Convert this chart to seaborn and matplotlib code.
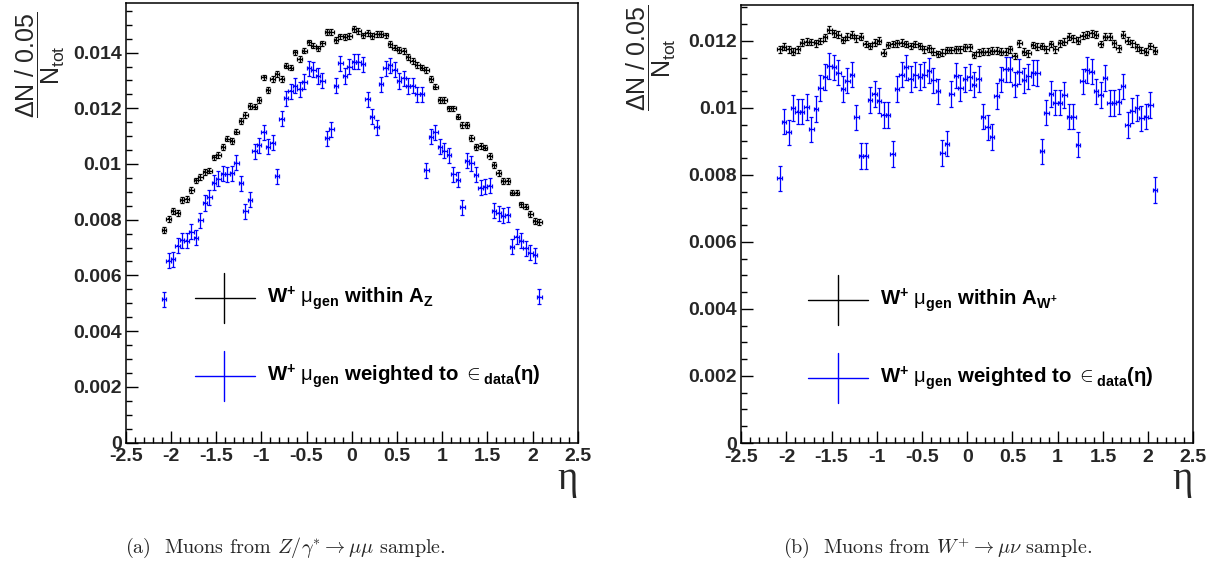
import numpy as np
import pandas as pd
import matplotlib
matplotlib.use("Agg")
import matplotlib.pyplot as plt
import seaborn as sns
from matplotlib.ticker import MultipleLocator, FormatStrFormatter

# 84 eta bins of width 0.05 between -2.1 and 2.1
bin_edges = np.round(np.linspace(-2.1, 2.1, 85), 3)
eta = 0.5 * (bin_edges[:-1] + bin_edges[1:])
bin_half = 0.025

# (a) Z/gamma* -> mu mu sample
z_within = [
    0.00762, 0.00803, 0.00832, 0.00825, 0.00871, 0.00874, 0.00906, 0.00941, 0.00954, 0.00972,
    0.00976, 0.01024, 0.01033, 0.01061, 0.01091, 0.01083, 0.01116, 0.01154, 0.01175, 0.01208,
    0.01206, 0.01229, 0.01311, 0.01266, 0.01305, 0.01323, 0.01305, 0.01353, 0.01346, 0.01401,
    0.01376, 0.01407, 0.01437, 0.01425, 0.01415, 0.01433, 0.01473, 0.01473, 0.01445, 0.01458,
    0.01456, 0.01460, 0.01485, 0.01477, 0.01462, 0.01471, 0.01460, 0.01466, 0.01466, 0.01462,
    0.01431, 0.01418, 0.01409, 0.01406, 0.01385, 0.01370, 0.01355, 0.01346, 0.01338, 0.01305,
    0.01278, 0.01230, 0.01230, 0.01200, 0.01200, 0.01170, 0.01140, 0.01141, 0.01094, 0.01062,
    0.01065, 0.01059, 0.01029, 0.00996, 0.00967, 0.00939, 0.00939, 0.00897, 0.00897, 0.00855,
    0.00847, 0.00820, 0.00795, 0.00791,
]
z_weighted = [
    0.00514, 0.00653, 0.00658, 0.00706, 0.00727, 0.00725, 0.00757, 0.00735, 0.00798, 0.00860,
    0.00880, 0.00933, 0.00947, 0.00965, 0.00963, 0.00967, 0.01005, 0.00931, 0.00831, 0.00871,
    0.01046, 0.01068, 0.01114, 0.01062, 0.01076, 0.00956, 0.01162, 0.01236, 0.01262, 0.01281,
    0.01268, 0.01296, 0.01344, 0.01338, 0.01316, 0.01299, 0.01092, 0.01125, 0.01281, 0.01362,
    0.01316, 0.01349, 0.01367, 0.01367, 0.01358, 0.01233, 0.01170, 0.01132, 0.01287, 0.01344,
    0.01355, 0.01338, 0.01298, 0.01308, 0.01280, 0.01281, 0.01251, 0.01251, 0.00978, 0.01098,
    0.01114, 0.01062, 0.01047, 0.01032, 0.00964, 0.00943, 0.00845, 0.01011, 0.01003, 0.00961,
    0.00915, 0.00919, 0.00922, 0.00832, 0.00823, 0.00814, 0.00817, 0.00703, 0.00739, 0.00725,
    0.00697, 0.00682, 0.00673, 0.00524,
]

# (b) W+ -> mu nu sample
w_within = [
    0.01175, 0.01183, 0.01175, 0.01168, 0.01175, 0.01195, 0.01198, 0.01197, 0.01193, 0.01200,
    0.01211, 0.01233, 0.01223, 0.01218, 0.01203, 0.01213, 0.01218, 0.01208, 0.01213, 0.01191,
    0.01185, 0.01195, 0.01201, 0.01165, 0.01188, 0.01191, 0.01193, 0.01195, 0.01191, 0.01185,
    0.01191, 0.01185, 0.01175, 0.01178, 0.01168, 0.01161, 0.01165, 0.01173, 0.01173, 0.01175,
    0.01175, 0.01181, 0.01181, 0.01158, 0.01166, 0.01168, 0.01168, 0.01171, 0.01171, 0.01168,
    0.01168, 0.01175, 0.01155, 0.01193, 0.01168, 0.01163, 0.01188, 0.01183, 0.01185, 0.01175,
    0.01191, 0.01175, 0.01193, 0.01198, 0.01213, 0.01208, 0.01201, 0.01215, 0.01218, 0.01223,
    0.01218, 0.01191, 0.01213, 0.01213, 0.01193, 0.01178, 0.01218, 0.01201, 0.01193, 0.01181,
    0.01173, 0.01168, 0.01185, 0.01171,
]
w_weighted = [
    0.00790, 0.00959, 0.00927, 0.00999, 0.00989, 0.00989, 0.01002, 0.00936, 0.00997, 0.01059,
    0.01092, 0.01125, 0.01121, 0.01105, 0.01057, 0.01081, 0.01099, 0.00972, 0.00857, 0.00857,
    0.01024, 0.01042, 0.01022, 0.00979, 0.00979, 0.00862, 0.01056, 0.01099, 0.01121, 0.01086,
    0.01099, 0.01092, 0.01099, 0.01111, 0.01082, 0.01049, 0.00865, 0.00893, 0.01042, 0.01096,
    0.01060, 0.01085, 0.01092, 0.01069, 0.01086, 0.00974, 0.00942, 0.00913, 0.01036, 0.01084,
    0.01115, 0.01115, 0.01069, 0.01108, 0.01082, 0.01094, 0.01105, 0.01104, 0.00870, 0.00986,
    0.01042, 0.01016, 0.01016, 0.01039, 0.00974, 0.00974, 0.00890, 0.01079, 0.01113, 0.01108,
    0.01049, 0.01039, 0.01089, 0.01014, 0.01014, 0.01019, 0.01064, 0.00949, 0.00992, 0.00999,
    0.00969, 0.00974, 0.01009, 0.00755,
]

# statistical uncertainty per bin
z_within_err = 0.00010
z_weighted_err = 0.00027
w_within_err = 0.00010
w_weighted_err = 0.00038

labels_z = [r"W$^{\mathbf{+}}$ $\mathrm{\mu}_{\mathbf{gen}}$ within A$_{\mathbf{Z}}$",
            r"W$^{\mathbf{+}}$ $\mathrm{\mu}_{\mathbf{gen}}$ weighted to $\in_{\mathbf{data}}$(η)"]
labels_w = [r"W$^{\mathbf{+}}$ $\mathrm{\mu}_{\mathbf{gen}}$ within A$_{\mathbf{W^{+}}}$",
            r"W$^{\mathbf{+}}$ $\mathrm{\mu}_{\mathbf{gen}}$ weighted to $\in_{\mathbf{data}}$(η)"]
captions = [r"(a)  Muons from $Z/\gamma^{*} \rightarrow \mu\mu$ sample.",
            r"(b)  Muons from $W^{+} \rightarrow \mu\nu$ sample."]
y_title = r"$\dfrac{\mathrm{\Delta N\ /\ 0.05}}{\mathrm{N_{tot}}}$"

sns.set_theme(style="ticks")
plt.rcParams["font.family"] = ["Liberation Sans", "DejaVu Sans"]
plt.rcParams["font.weight"] = "normal"
plt.rcParams["mathtext.fontset"] = "custom"
plt.rcParams["mathtext.rm"] = "Liberation Sans"
plt.rcParams["mathtext.it"] = "Liberation Sans:italic"
plt.rcParams["mathtext.bf"] = "Liberation Sans:bold"
plt.rcParams["axes.unicode_minus"] = False

W, H = 1219, 567
fig = plt.figure(figsize=(W / 100, H / 100), dpi=100)
fig.patch.set_facecolor("white")


def frac_box(left, right, top, bottom):
    return [left / W, 1 - bottom / H, (right - left) / W, (bottom - top) / H]


def fx(px):
    return px / W


def fy(py):
    return 1 - py / H


ax_z = fig.add_axes(frac_box(125.7, 577.7, 3.3, 442.5))
ax_w = fig.add_axes(frac_box(741.2, 1193.3, 5.0, 443.0))

panels = [
    dict(ax=ax_z, within=z_within, weighted=z_weighted, e1=z_within_err, e2=z_weighted_err,
         ymax=0.01577, labels=labels_z,
         key1=dict(x0=195, x1=255, xc=224, y=298, h=25, tx=267),
         key2=dict(x0=195, x1=255, xc=224, y=376, h=25, tx=267),
         ylab_x=40, ylab_top=12, eta_x=568, cap_x=285),
    dict(ax=ax_w, within=w_within, weighted=w_weighted, e1=w_within_err, e2=w_weighted_err,
         ymax=0.01307, labels=labels_w,
         key1=dict(x0=808, x1=868, xc=838, y=300, h=25, tx=880),
         key2=dict(x0=808, x1=868, xc=838, y=378, h=25, tx=880),
         ylab_x=651, ylab_top=5, eta_x=1183, cap_x=938),
]

for p in panels:
    ax = p["ax"]
    ax.set_facecolor("white")
    df = pd.DataFrame({"eta": np.concatenate([eta, eta]),
                       "value": np.concatenate([p["within"], p["weighted"]]),
                       "sample": ["within"] * len(eta) + ["weighted"] * len(eta)})
    palette = {"within": "black", "weighted": "#0000ff"}
    for name, err in (("within", p["e1"]), ("weighted", p["e2"])):
        sub = df[df["sample"] == name]
        ax.errorbar(sub["eta"], sub["value"], xerr=bin_half, yerr=err, fmt="none",
                    ecolor=palette[name], elinewidth=0.9, capsize=1.3, capthick=0.9)
    sns.scatterplot(data=df, x="eta", y="value", hue="sample", palette=palette,
                    s=2, linewidth=0, legend=False, ax=ax)

    ax.set_xlim(-2.5, 2.5)
    ax.set_ylim(0, p["ymax"])
    ax.set_xlabel("")
    ax.set_ylabel("")
    ax.xaxis.set_major_locator(MultipleLocator(0.5))
    ax.xaxis.set_minor_locator(MultipleLocator(0.1))
    ax.yaxis.set_major_locator(MultipleLocator(0.002))
    ax.yaxis.set_minor_locator(MultipleLocator(0.0005))
    ax.xaxis.set_major_formatter(FormatStrFormatter("%g"))
    ax.yaxis.set_major_formatter(FormatStrFormatter("%g"))
    ax.tick_params(which="both", direction="in", top=False, right=False,
                   width=1.0, color="black")
    ax.tick_params(which="major", length=8.6, labelsize=14)
    ax.tick_params(axis="y", which="major", pad=3.0)
    ax.tick_params(axis="x", which="major", pad=4.0)
    ax.tick_params(which="minor", length=4.3)
    for s in ax.spines.values():
        s.set_visible(True)
        s.set_color("black")
        s.set_linewidth(1.1)

    # legend keys drawn as error-bar crosses
    for key, col, lab in ((p["key1"], "black", p["labels"][0]),
                          (p["key2"], "#0000ff", p["labels"][1])):
        fig.add_artist(plt.Line2D([fx(key["x0"]), fx(key["x1"])], [fy(key["y"])] * 2,
                                  color=col, lw=1.0))
        fig.add_artist(plt.Line2D([fx(key["xc"])] * 2,
                                  [fy(key["y"] - key["h"]), fy(key["y"] + key["h"])],
                                  color=col, lw=1.0))
        fig.text(fx(key["tx"]), fy(key["y"]), lab, fontsize=14.7, fontweight="bold",
                 ha="left", va="center", color="black")

    fig.text(fx(p["ylab_x"]), fy(p["ylab_top"]), y_title, rotation=90,
             fontsize=18, ha="center", va="top")
    fig.text(fx(p["eta_x"]), fy(489), "η", family="Liberation Serif",
             fontsize=28, ha="center", va="baseline")

for p, cap in zip(panels, captions):
    fig.text(fx(p["cap_x"]), fy(548), cap, family="cmr10", math_fontfamily="cm",
             fontsize=14.5, ha="center", va="center")

# bold tick numbers, applied once the ticks exist
fig.canvas.draw()
for p in panels:
    for lbl in p["ax"].get_xticklabels() + p["ax"].get_yticklabels():
        lbl.set_fontweight("bold")

fig.savefig("out.png", dpi=100, facecolor="white")
